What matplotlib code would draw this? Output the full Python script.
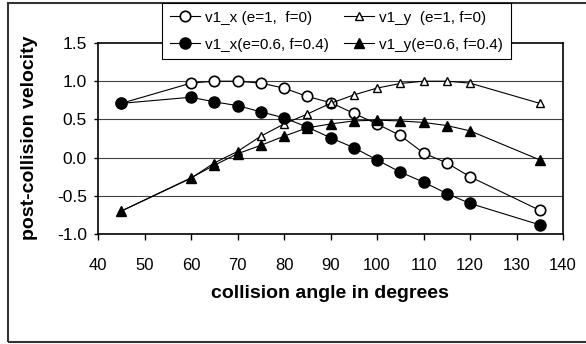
import matplotlib.pyplot as plt
from matplotlib.patches import Rectangle

plt.rcParams['font.family'] = ['Liberation Sans', 'DejaVu Sans']

# Data
angles = [45, 60, 65, 70, 75, 80, 85, 90, 95, 100, 105, 110, 115, 120, 135]
vx_e1 = [0.71, 0.975, 1.0, 1.0, 0.975, 0.91, 0.80, 0.72, 0.58, 0.44, 0.29, 0.06, -0.07, -0.25, -0.69]
vy_e1 = [-0.70, -0.27, -0.07, 0.08, 0.28, 0.44, 0.57, 0.71, 0.82, 0.91, 0.97, 1.0, 1.0, 0.975, 0.71]
vx_e06 = [0.71, 0.79, 0.73, 0.68, 0.60, 0.52, 0.40, 0.26, 0.13, -0.03, -0.19, -0.32, -0.47, -0.60, -0.88]
vy_e06 = [-0.70, -0.265, -0.10, 0.05, 0.16, 0.28, 0.39, 0.44, 0.48, 0.49, 0.48, 0.46, 0.42, 0.35, -0.03]

labels = ['v1_x (e=1,  f=0)', 'v1_x(e=0.6, f=0.4)', 'v1_y  (e=1, f=0)', 'v1_y(e=0.6, f=0.4)']

fig = plt.figure(figsize=(5.86, 3.44), dpi=100)
ax = fig.add_axes([98 / 586, 110 / 344, 465 / 586, 191 / 344])

# horizontal gridlines
for yv in [1.0, 0.5, 0.0, -0.5]:
    ax.axhline(yv, color='#404040', lw=0.8, zorder=1)

line_kw = dict(color='black', lw=0.8, zorder=3)
h1, = ax.plot(angles, vx_e1, marker='o', ms=7.5, mfc='white', mec='black', mew=1.2,
              label=labels[0], **line_kw)
h3, = ax.plot(angles, vy_e1, marker='^', ms=5.5, mfc='white', mec='black', mew=1.0,
              label=labels[2], **line_kw)
h2, = ax.plot(angles, vx_e06, marker='o', ms=8, mfc='black', mec='black',
              label=labels[1], **line_kw)
h4, = ax.plot(angles, vy_e06, marker='^', ms=6.5, mfc='black', mec='black',
              label=labels[3], **line_kw)

ax.set_xlim(40, 140)
ax.set_ylim(-1.0, 1.5)
ax.set_xticks(range(40, 141, 10))
ax.set_yticks([-1.0, -0.5, 0.0, 0.5, 1.0, 1.5])
ax.set_yticklabels(['-1.0', '-0.5', '0.0', '0.5', '1.0', '1.5'])
ax.tick_params(axis='x', labelsize=12, direction='out', length=4, width=1, pad=13)
ax.tick_params(axis='y', labelsize=12.5, direction='out', length=3, width=1, pad=5)
for s in ax.spines.values():
    s.set_linewidth(1.2)

fig.text(30 / 586, 1 - 138 / 344, 'post-collision velocity', rotation=90,
         ha='center', va='center', fontsize=14, fontweight='bold')
fig.text(330 / 586, 1 - 293 / 344, 'collision angle in degrees',
         ha='center', va='center', fontsize=14, fontweight='bold')

# outer chart frame
fig.add_artist(Rectangle((8 / 586, 2 / 344), 1.0, 339 / 344, transform=fig.transFigure,
                         fill=False, edgecolor='#333333', lw=1.5, zorder=0))

leg = fig.legend([h1, h2, h3, h4], labels, ncol=2, loc='upper left',
                 bbox_to_anchor=(162 / 586, 341 / 344), fontsize=11,
                 frameon=True, fancybox=False, edgecolor='black', framealpha=1,
                 handlelength=2.0, handletextpad=0.3, columnspacing=1.0,
                 borderpad=0.5, labelspacing=0.85, borderaxespad=0)
leg.get_frame().set_linewidth(0.8)

fig.savefig('out.png', dpi=100)
